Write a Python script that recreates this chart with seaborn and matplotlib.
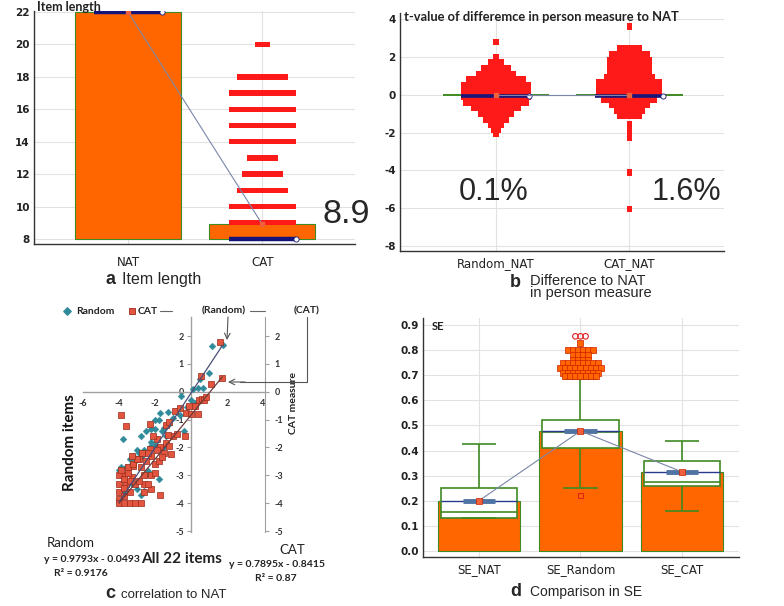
import numpy as np
import pandas as pd
import matplotlib
matplotlib.use("Agg")
import matplotlib.pyplot as plt
from matplotlib.ticker import MultipleLocator
import seaborn as sns

# ---------------- data ----------------
# (a) item length
len_groups = ["NAT", "CAT"]
len_means = [22.0, 8.9]
len_medians = [22.0, 8.0]
cat_len_values = [20, 18, 17, 16, 15, 14, 13, 12, 11, 10, 9]
cat_len_counts = [3, 10, 13, 13, 13, 13, 6, 8, 10, 13, 13]

# (b) t-value of difference in person measure
t_groups = ["Random_NAT", "CAT_NAT"]
t_means = [0.0, 0.0]
t_medians = [-0.07, -0.07]
rnd_t_values = [2.8, 2.0, 1.7, 1.4, 1.1, 0.8, 0.5, 0.2, -0.1, -0.4, -0.7, -1.0, -1.3, -1.6, -1.85, -2.05]
rnd_t_counts = [1, 1, 3, 6, 8, 12, 14, 14, 14, 13, 10, 7, 5, 3, 2, 1]
cat_t_values = [3.6, 2.45, 2.15, 1.85, 1.55, 1.25, 0.95, 0.65, 0.35, 0.05, -0.25, -0.55,
                -0.85, -1.1, -1.55, -1.85, -2.1, -2.3, -4.1, -6.05]
cat_t_counts = [1, 5, 8, 9, 9, 9, 10, 13, 13, 13, 11, 8, 6, 5, 1, 1, 1, 1, 1, 1]
t_pct_labels = ["0.1%", "1.6%"]

# (c) correlation to NAT
rand_pts = [(1.15, 1.64), (1.75, 1.66), (1.0, 0.66), (0.5, 0.44), (0.65, 0.14), (0.4, 0.14),
            (0.1, 0.1), (-0.55, -0.16), (0.2, -0.4), (-0.85, -0.7), (-1.3, -0.72), (-1.7, -0.75),
            (-2.0, -1.0), (-1.8, -1.0), (-2.2, -1.35), (-2.5, -1.4), (-2.0, -1.35), (-1.6, -1.4),
            (-1.5, -1.3), (-0.4, -1.4), (-3.8, -1.7), (-2.8, -1.6), (-3.0, -2.1), (-3.2, -2.3),
            (-3.4, -2.4), (-3.3, -2.6), (-3.6, -2.7), (-3.9, -2.7), (-2.0, -1.9), (-2.3, -2.0),
            (-2.6, -2.1), (-1.8, -3.15), (-2.8, -3.7), (-3.0, -3.5), (-2.4, -2.85), (-1.0, -0.95),
            (-0.6, -0.85), (-1.2, -1.15), (-1.4, -1.6), (-2.7, -2.3), (-3.5, -2.9), (-3.7, -3.1),
            (-4.0, -2.8), (-3.1, -2.5), (-2.9, -2.2), (-2.2, -1.8), (-1.9, -1.7), (-3.3, -3.3),
            (-3.6, -3.4), (-2.5, -3.0), (-1.5, -2.0), (-3.8, -3.6), (-4.0, -3.9), (-2.6, -3.55),
            (0.0, -0.3), (-0.2, -0.55)]
cat_pts = [(1.62, 1.78), (0.54, 0.55), (1.74, 0.5), (1.1, 0.27), (0.43, -0.3), (0.6, -0.25),
           (0.71, -0.3), (0.85, -0.2), (-0.1, -0.5), (0.2, -0.5), (-0.3, -0.75), (0.0, -0.8),
           (0.4, -0.8), (-0.9, -0.7), (-3.9, -0.85), (-3.6, -1.24), (-2.3, -1.15), (-1.0, -1.6),
           (-1.3, -1.55), (-0.36, -1.6), (-1.4, -1.85), (-1.2, -1.95), (-1.5, -2.2), (-1.1, -2.25),
           (-1.7, -2.0), (-1.9, -2.1), (-2.3, -2.05), (-2.2, -2.3), (-2.5, -2.5), (-2.9, -2.4),
           (-2.8, -2.7), (-3.2, -2.65), (-3.5, -2.7), (-3.3, -3.05), (-2.6, -3.0), (-2.2, -3.0),
           (-2.0, -2.9), (-1.7, -3.72), (-2.2, -3.5), (-2.6, -3.6), (-3.6, -3.3), (-3.8, -3.0),
           (-4.0, -3.0), (-4.0, -3.3), (-4.0, -3.6), (-4.0, -3.85), (-4.0, -4.0), (-3.7, -3.15),
           (-3.7, -3.45), (-3.7, -3.75), (-3.7, -4.0), (-3.4, -3.2), (-3.4, -3.6), (-3.4, -4.0),
           (-3.1, -3.3), (-3.1, -4.0), (-2.8, -4.0), (-2.6, -3.3), (-3.9, -2.8), (-3.5, -2.9),
           (-3.2, -2.6), (-2.9, -3.2), (-2.4, -3.3), (-2.0, -2.6), (-1.8, -2.5), (-1.6, -2.35),
           (-1.9, -1.7), (-2.1, -1.6), (-2.4, -2.2), (-2.7, -2.2), (-3.0, -2.4), (-3.3, -2.3),
           (-1.4, -1.2), (-1.2, -1.1), (-0.8, -1.5), (-0.6, -0.6)]
rand_fit = (0.9793, -0.0493, 0.9176)
cat_fit = (0.7895, -0.8415, 0.87)

# (d) comparison in SE
se_groups = ["SE_NAT", "SE_Random", "SE_CAT"]
se_means = [0.200, 0.478, 0.315]
se_q1 = [0.13, 0.41, 0.26]
se_median = [0.157, 0.475, 0.275]
se_q3 = [0.25, 0.52, 0.36]
se_whisk_lo = [0.13, 0.25, 0.16]
se_whisk_hi = [0.425, 0.685, 0.44]
se_out_levels = [0.83, 0.80, 0.78, 0.76, 0.75, 0.73, 0.71, 0.695]
se_out_counts = [1, 6, 4, 4, 8, 9, 8, 7]
se_far_out_level = 0.855
se_far_out_count = 3
se_random_low_marker = 0.22

# ---------------- style ----------------
sns.set_style("white")
plt.rcParams["font.family"] = ["DejaVu Sans"]
plt.rcParams["axes.unicode_minus"] = False
plt.rcParams["patch.force_edgecolor"] = False

ORANGE = "#FF6600"
GREEN = "#3f8a22"
RED = "#FF1A1A"
NAVY = "#14147a"
LINEGRAY = "#7a86a8"
MEANMK = "#F0603a"
GRID = "#e2e2e2"
TEAL = "#2f8a9a"
CATRED = "#E2553F"

W, H = 784, 606
fig = plt.figure(figsize=(W / 100, H / 100), dpi=100)


def rect(l, t, r, b):
    return [l / W, 1 - b / H, (r - l) / W, (b - t) / H]


def ft(px, py, s, **kw):
    return fig.text(px / W, 1 - py / H, s, **kw)


def style_cat_axes(ax, labels, xpad):
    for s in ["top", "right"]:
        ax.spines[s].set_visible(False)
    for s in ["left", "bottom"]:
        ax.spines[s].set_color("#333333")
        ax.spines[s].set_linewidth(1.0)
    ax.set_xticks(range(len(labels)))
    ax.set_xticklabels(labels, fontsize=8.5, color="#222222")
    ax.tick_params(axis="x", length=0, pad=xpad)
    ax.tick_params(axis="y", which="major", length=4, direction="in", labelsize=7.5,
                   labelcolor="#222222", pad=3)
    ax.tick_params(axis="y", which="minor", length=2.5, direction="in")
    for lab in ax.get_yticklabels():
        lab.set_fontweight("bold")
    ax.grid(True, which="major", color=GRID, lw=0.8)
    ax.set_axisbelow(True)
    ax.set_xlabel("")
    ax.set_ylabel("")


UNIT = 0.038

# ---------------- panel a ----------------
ax_a = fig.add_axes(rect(34, 11, 355, 244))
xa = np.arange(len(len_groups))
ax_a.bar(xa, np.array(len_means) - 8, bottom=8, width=0.79, color=ORANGE,
         edgecolor=GREEN, lw=0.8, zorder=2)
cl = np.array(cat_len_counts) * UNIT
ax_a.barh(cat_len_values, cl, left=1 - cl / 2, height=0.33, color=RED, edgecolor="none",
          lw=0, zorder=3)
ax_a.hlines(len_medians, xa - 0.25, xa + 0.25, color=NAVY, lw=3.2, zorder=4)
ax_a.scatter(xa + 0.25, len_medians, s=14, facecolor="white", edgecolor=NAVY, lw=0.6, zorder=5)
ax_a.plot(xa, len_means, color=LINEGRAY, lw=0.8, zorder=5)
ax_a.scatter(xa, len_means, marker="s", s=12, color=MEANMK, zorder=6)
ax_a.set_xlim(-0.70, 1.69)
ax_a.set_ylim(7.69, 22.06)
ax_a.set_yticks(range(8, 23, 2))
ax_a.yaxis.set_minor_locator(MultipleLocator(1))
style_cat_axes(ax_a, len_groups, xpad=9)
ft(37, 7, "Item length", fontsize=9, fontweight="bold", family="Lato", color="#222", va="center")
ft(322, 223, f"{len_means[1]:.1f}", fontsize=24.5, family="Liberation Sans", va="baseline")
ft(105, 284, "a", fontsize=13, fontweight="bold", family="Liberation Sans", va="baseline")
ft(122, 284, "Item length", fontsize=11.5, family="Liberation Sans", va="baseline")

# ---------------- panel b ----------------
ax_b = fig.add_axes(rect(400, 13, 724, 251))
xb = np.arange(len(t_groups))
ax_b.bar(xb, t_means, width=0.8, color=ORANGE, edgecolor=GREEN, lw=1.4, zorder=2)
for xc, vals, cnts in [(0, rnd_t_values, rnd_t_counts), (1, cat_t_values, cat_t_counts)]:
    w = np.array(cnts) * UNIT
    ax_b.barh(vals, w, left=xc - w / 2, height=0.34, color=RED, edgecolor="none", lw=0, zorder=3)
ax_b.hlines(t_medians, xb - 0.26, xb + 0.25, color=NAVY, lw=2.6, zorder=4)
ax_b.scatter(xb + 0.25, t_medians, s=14, facecolor="white", edgecolor=NAVY, lw=0.6, zorder=5)
ax_b.plot(xb, t_means, color=LINEGRAY, lw=0.8, zorder=5)
ax_b.scatter(xb, t_means, marker="s", s=12, color=MEANMK, zorder=6)
ax_b.set_xlim(-0.72, 1.71)
ax_b.set_ylim(-8.26, 4.32)
ax_b.set_yticks(range(-8, 5, 2))
ax_b.yaxis.set_minor_locator(MultipleLocator(1))
style_cat_axes(ax_b, t_groups, xpad=4)
ft(404, 17, "t-value of differemce in person measure to NAT", fontsize=9.3,
   fontweight="bold", family="Lato", color="#222", va="center")
ft(459, 200, t_pct_labels[0], fontsize=22, family="Liberation Sans", va="baseline")
ft(652, 200, t_pct_labels[1], fontsize=22, family="Liberation Sans", va="baseline")
ft(510, 287, "b", fontsize=13, fontweight="bold", family="Liberation Sans", va="baseline")
ft(530, 297.5, "Difference to NAT\nin person measure", fontsize=10.5, family="Liberation Sans",
   va="baseline", linespacing=0.82)

# ---------------- panel c ----------------
ax_c = fig.add_axes(rect(83, 316.5, 264.8, 532.4))
rdf = pd.DataFrame(rand_pts, columns=["x", "y"])
cdf = pd.DataFrame(cat_pts, columns=["x", "y"])
sns.scatterplot(data=rdf, x="x", y="y", marker="D", s=12, color=TEAL, edgecolor=TEAL,
                linewidth=0.3, ax=ax_c, zorder=3)
sns.scatterplot(data=cdf, x="x", y="y", marker="s", s=19, color=CATRED, edgecolor="#9b2a1a",
                linewidth=0.5, ax=ax_c, zorder=4)
for df, (m, b, _), col in [(rdf, rand_fit, "#4a4f78"), (cdf, cat_fit, "#6b3a3a")]:
    xs = np.array([df["x"].min(), df["x"].max()])
    ax_c.plot(xs, m * xs + b, color=col, lw=0.9, zorder=5)
ax_c.set_xlim(-6, 4.1)
ax_c.set_ylim(-5.05, 2.7)
ax_c.spines["left"].set_position(("data", 0))
ax_c.spines["bottom"].set_position(("data", 0))
ax_c.spines["top"].set_visible(False)
ax_c.spines["right"].set_visible(False)
for s in ["left", "bottom"]:
    ax_c.spines[s].set_color("#a0a0a0")
    ax_c.spines[s].set_linewidth(1.0)
ax_c.set_xticks([-6, -4, -2, 0, 2, 4])
ax_c.set_xticklabels(["-6", "-4", "-2", "", "2", "4"])
ax_c.set_yticks(range(-5, 3))
ax_c.tick_params(axis="both", length=3, direction="out", color="#a0a0a0",
                 labelsize=6.5, labelcolor="#333333", pad=2)
for lab in ax_c.get_xticklabels() + ax_c.get_yticklabels():
    lab.set_family("Lato")
    lab.set_fontweight("bold")
ax_c.set_xlabel("")
ax_c.set_ylabel("")
ax_c.patch.set_alpha(0)
ax_c2 = ax_c.twinx()
ax_c2.set_ylim(-5.05, 2.7)
ax_c2.set_yticks(range(-5, 3))
for s in ["left", "top", "bottom"]:
    ax_c2.spines[s].set_visible(False)
ax_c2.spines["right"].set_color("#a0a0a0")
ax_c2.tick_params(axis="y", length=3, direction="out", color="#a0a0a0",
                  labelsize=6.5, labelcolor="#333333", pad=4)
for lab in ax_c2.get_yticklabels():
    lab.set_family("Lato")
    lab.set_fontweight("bold")

ft(293, 403, "CAT measure", rotation=90, fontsize=7.5, fontweight="bold", family="Lato",
   color="#222", ha="center", va="center")
ft(70, 443, "Random items", rotation=90, fontsize=11, fontweight="bold", family="Lato",
   color="#111", ha="center", va="center")

# legend + arrows in pixel overlay
ax_o = fig.add_axes([0, 0, 1, 1])
ax_o.set_xlim(0, W)
ax_o.set_ylim(H, 0)
ax_o.axis("off")
ax_o.patch.set_alpha(0)
ax_o.scatter([67], [311], marker="D", s=14, color=TEAL)
ax_o.scatter([132], [311], marker="s", s=22, color=CATRED, edgecolor="#9b2a1a", lw=0.6)
ax_o.plot([160, 172], [311, 311], color="#666", lw=0.8)
ax_o.plot([250, 265], [311, 311], color="#666", lw=0.8)
legkw = dict(fontsize=7.5, fontweight="bold", family="Lato", color="#222", va="center")
ft(76, 311, "Random", **legkw)
ft(138, 311, "CAT", **legkw)
ft(202, 311, "(Random)", **legkw)
ft(294, 311, "(CAT)", **legkw)
ax_o.annotate("", xy=(227, 340), xytext=(228, 317),
              arrowprops=dict(arrowstyle="->", color="#555", lw=0.8, shrinkA=0, shrinkB=0))
ax_o.plot([307, 307, 240], [317, 382, 382], color="#555", lw=0.8)
ax_o.annotate("", xy=(228, 382), xytext=(245, 382),
              arrowprops=dict(arrowstyle="->", color="#555", lw=0.8, shrinkA=0, shrinkB=0))

txkw = dict(family="Lato", color="#222", ha="center", va="baseline")
ft(71, 547, "Random", fontsize=9.5, **txkw)
ft(92, 562, f"y = {rand_fit[0]:.4f}x - {abs(rand_fit[1]):.4f}", fontsize=7.5, fontweight="bold", **txkw)
ft(81, 576, f"R² = {rand_fit[2]:.4f}", fontsize=7.5, fontweight="bold", **txkw)
ft(182, 563, "All 22 items", fontsize=11, fontweight="bold", **txkw)
ft(292, 554, "CAT", fontsize=9.5, **txkw)
ft(277, 567, f"y = {cat_fit[0]:.4f}x - {abs(cat_fit[1]):.4f}", fontsize=7.5, fontweight="bold", **txkw)
ft(276, 581, f"R² = {cat_fit[2]:.2f}", fontsize=7.5, fontweight="bold", **txkw)
ft(105, 598, "c", fontsize=13, fontweight="bold", family="Liberation Sans", va="baseline")
ft(121, 598, "correlation to NAT", fontsize=9.5, family="Liberation Sans", va="baseline")

# ---------------- panel d ----------------
ax_d = fig.add_axes(rect(423, 318, 739, 557))
ddf = pd.DataFrame({"group": se_groups, "mean": se_means})
sns.barplot(data=ddf, x="group", y="mean", order=se_groups, width=0.81, color=ORANGE,
            saturation=1, edgecolor=GREEN, linewidth=0.8, ax=ax_d, zorder=2)
xd = np.arange(len(se_groups))
q1 = np.array(se_q1)
q3 = np.array(se_q3)
ax_d.bar(xd, q3 - q1, bottom=q1, width=0.75, facecolor="white", edgecolor=GREEN, lw=1.2, zorder=3)
ax_d.hlines(se_median, xd - 0.375, xd + 0.375, color=GREEN, lw=1.2, zorder=4)
ax_d.vlines(xd, se_q3, se_whisk_hi, color=GREEN, lw=1.2, zorder=3)
ax_d.vlines(xd, se_whisk_lo, se_q1, color=GREEN, lw=1.2, zorder=3)
ax_d.hlines(se_whisk_hi, xd - 0.17, xd + 0.17, color=GREEN, lw=1.2, zorder=3)
ax_d.hlines(se_whisk_lo, xd - 0.17, xd + 0.17, color=GREEN, lw=1.2, zorder=3)
ax_d.hlines(se_means, xd - 0.375, xd + 0.375, color="#2a3a8a", lw=1.0, zorder=5)
ax_d.hlines(se_means, xd - 0.16, xd + 0.16, color="#4f73a3", lw=3.5, zorder=5)
ax_d.plot(xd, se_means, color=LINEGRAY, lw=0.8, zorder=6)
ax_d.scatter(xd, se_means, marker="s", s=14, color=MEANMK, edgecolor="#cc2200", lw=0.5, zorder=7)
ox, oy = [], []
for lev, n in zip(se_out_levels, se_out_counts):
    off = (np.arange(n) - (n - 1) / 2) * 0.05
    ox.extend(1 + off)
    oy.extend([lev] * n)
ax_d.scatter(ox, oy, marker="s", s=13, color=ORANGE, edgecolor="#d02000", lw=0.5, zorder=6)
foff = (np.arange(se_far_out_count) - (se_far_out_count - 1) / 2) * 0.05
ax_d.scatter(1 + foff, [se_far_out_level] * se_far_out_count, marker="o", s=16,
             facecolor="none", edgecolor="#e02020", lw=0.8, zorder=6)
ax_d.scatter([1], [se_random_low_marker], marker="s", s=14, facecolor="none",
             edgecolor="#e02020", lw=0.7, zorder=6)
ax_d.set_xlim(-0.55, 2.56)
ax_d.set_ylim(-0.024, 0.928)
ax_d.set_yticks(np.arange(0, 0.91, 0.1))
ax_d.set_yticklabels([f"{v:.1f}" for v in np.arange(0, 0.91, 0.1)])
ax_d.yaxis.set_minor_locator(MultipleLocator(0.05))
style_cat_axes(ax_d, se_groups, xpad=4)
ft(432, 326, "SE", fontsize=8, fontweight="bold", family="Lato", color="#222", va="center")
ft(510, 596, "d", fontsize=13, fontweight="bold", family="Liberation Sans", va="baseline")
ft(530, 596, "Comparison in SE", fontsize=10, family="Liberation Sans", va="baseline")

fig.savefig("out.png", dpi=100)
